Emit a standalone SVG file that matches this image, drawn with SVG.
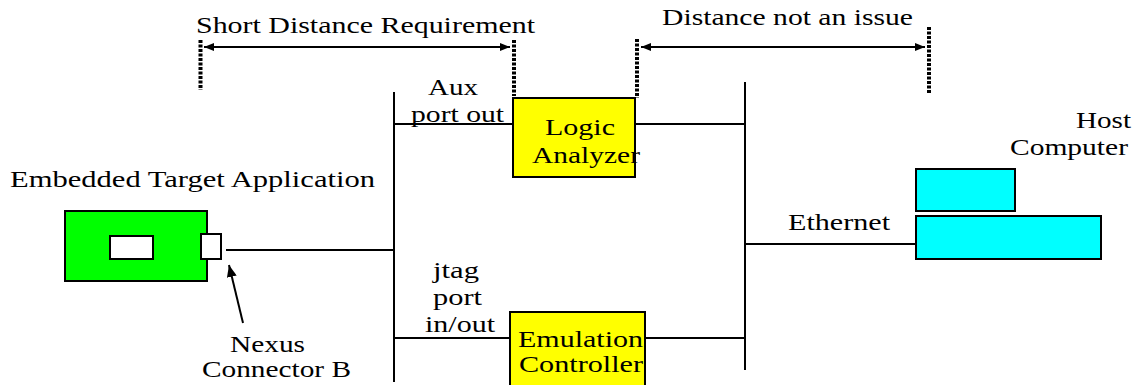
<svg xmlns="http://www.w3.org/2000/svg" width="1135" height="385" viewBox="0 0 1135 385">
  <style>
    text { font-family: Liberation Serif, DejaVu Serif, Noto Serif, serif; font-size: 24px; fill: #000; }
    .wire { stroke: #000; stroke-width: 2; fill: none; }
    .bus { stroke: #000; stroke-width: 2; fill: none; }
    .limit { stroke: #000; stroke-width: 4; stroke-dasharray: 3 1.5; fill: none; }
    .span { stroke: #000; stroke-width: 2; fill: none; marker-start: url(#head); marker-end: url(#head); }
    .box { stroke: #000; stroke-width: 2; }
  </style>
  <defs>
    <marker id="head" viewBox="0 0 10 8" refX="10" refY="4" markerWidth="10" markerHeight="8" markerUnits="userSpaceOnUse" orient="auto-start-reverse">
      <path d="M0,0 L10,4 L0,8 Z" fill="#000"/>
    </marker>
    <marker id="tip" viewBox="0 0 12 10" refX="12" refY="5" markerWidth="12" markerHeight="10" markerUnits="userSpaceOnUse" orient="auto">
      <path d="M0,0 L12,5 L0,10 Z" fill="#000"/>
    </marker>
  </defs>

  <!-- distance ranges -->
  <g id="ranges">
    <line class="limit" x1="200.5" y1="40" x2="200.5" y2="90"/>
    <line class="limit" x1="514" y1="40" x2="514" y2="96"/>
    <line class="span" x1="204" y1="47" x2="510" y2="47"/>
    <text x="196" y="33" textLength="339" lengthAdjust="spacingAndGlyphs">Short Distance Requirement</text>

    <line class="limit" x1="637" y1="39" x2="637" y2="98"/>
    <line class="limit" x1="929" y1="27" x2="929" y2="93"/>
    <line class="span" x1="641" y1="47" x2="925" y2="47"/>
    <text x="662" y="25" textLength="251" lengthAdjust="spacingAndGlyphs">Distance not an issue</text>
  </g>

  <!-- connectors -->
  <g id="connectors">
    <line class="bus" x1="394" y1="92" x2="394" y2="382"/>
    <line class="bus" x1="745" y1="82" x2="745" y2="370"/>
    <line class="wire" x1="226" y1="250" x2="394" y2="250"/>
    <line class="wire" x1="394" y1="124" x2="512" y2="124"/>
    <line class="wire" x1="630" y1="124" x2="745" y2="124"/>
    <line class="wire" x1="394" y1="338" x2="510" y2="338"/>
    <line class="wire" x1="630" y1="338" x2="745" y2="338"/>
    <line class="wire" x1="745" y1="244" x2="916" y2="244"/>
    <line class="wire" x1="243" y1="323" x2="229" y2="265" marker-end="url(#tip)"/>
  </g>

  <!-- embedded target board -->
  <g id="target">
    <text x="10" y="187" textLength="365" lengthAdjust="spacingAndGlyphs">Embedded Target Application</text>
    <rect class="box" x="65" y="211" width="142" height="70" fill="#00ff00"/>
    <rect class="box" x="110" y="236" width="43" height="23" fill="#ffffff"/>
    <rect class="box" x="201" y="234" width="20" height="25" fill="#ffffff"/>
  </g>

  <g id="nexus-label">
    <text x="230" y="352" textLength="75" lengthAdjust="spacingAndGlyphs">Nexus</text>
    <text x="202" y="377" textLength="149" lengthAdjust="spacingAndGlyphs">Connector B</text>
  </g>

  <g id="aux-label">
    <text x="428" y="95" textLength="50" lengthAdjust="spacingAndGlyphs">Aux</text>
    <text x="411" y="122" textLength="93" lengthAdjust="spacingAndGlyphs">port out</text>
  </g>

  <g id="jtag-label">
    <text x="433" y="278" textLength="46" lengthAdjust="spacingAndGlyphs">jtag</text>
    <text x="433" y="305" textLength="49" lengthAdjust="spacingAndGlyphs">port</text>
    <text x="425" y="332" textLength="70" lengthAdjust="spacingAndGlyphs">in/out</text>
  </g>

  <!-- logic analyzer -->
  <g id="logic-analyzer">
    <rect class="box" x="513" y="98" width="122" height="79" fill="#ffff00"/>
    <text x="545" y="135" textLength="70" lengthAdjust="spacingAndGlyphs">Logic</text>
    <text x="532" y="163" textLength="108" lengthAdjust="spacingAndGlyphs">Analyzer</text>
  </g>

  <!-- emulation controller -->
  <g id="emulation-controller">
    <rect class="box" x="510" y="312" width="135" height="80" fill="#ffff00"/>
    <text x="518" y="347" textLength="125" lengthAdjust="spacingAndGlyphs">Emulation</text>
    <text x="519" y="372" textLength="124" lengthAdjust="spacingAndGlyphs">Controller</text>
  </g>

  <g id="ethernet-label">
    <text x="788" y="230" textLength="102" lengthAdjust="spacingAndGlyphs">Ethernet</text>
  </g>

  <!-- host computer -->
  <g id="host">
    <text x="1076" y="128" textLength="55" lengthAdjust="spacingAndGlyphs">Host</text>
    <text x="1010" y="155" textLength="118" lengthAdjust="spacingAndGlyphs">Computer</text>
    <rect class="box" x="916" y="169" width="99" height="42" fill="#00ffff"/>
    <rect class="box" x="916" y="216" width="185" height="43" fill="#00ffff"/>
  </g>
</svg>
